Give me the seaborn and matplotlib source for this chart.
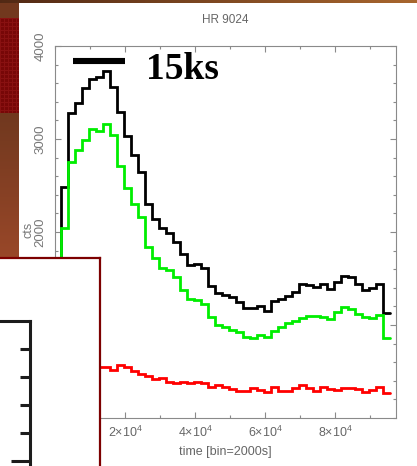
import numpy as np
import pandas as pd
import matplotlib
matplotlib.use("Agg")
import matplotlib.pyplot as plt
from matplotlib.ticker import MultipleLocator, FixedLocator, FuncFormatter
import seaborn as sns

# ---- light curve of HR 9024, 2000 s bins ----
BIN_WIDTH = 2000
T_START = 1700

total_cts = [2487, 3280, 3387, 3548, 3645, 3667, 3731, 3559, 3290, 3032,
             2823, 2645, 2306, 2140, 2038, 1984, 1892, 1763, 1645, 1656,
             1610, 1419, 1341, 1323, 1298, 1251, 1180, 1180, 1201, 1151,
             1261, 1276, 1312, 1358, 1441, 1430, 1405, 1441, 1387, 1459,
             1527, 1519, 1438, 1376, 1401, 1441, 1126]
soft_cts = [2040, 2756, 2887, 2989, 3111, 3091, 3161, 3043, 2710, 2470,
            2301, 2165, 1842, 1717, 1610, 1591, 1519, 1376, 1276, 1269,
            1223, 1089, 1000, 982, 946, 928, 874, 857, 892, 868,
            935, 975, 1018, 1043, 1075, 1100, 1100, 1089, 1065, 1143,
            1190, 1172, 1115, 1089, 1078, 1104, 857]
hard_cts = [540, 565, 558, 548, 556, 552, 552, 516, 570, 552,
            505, 473, 452, 416, 427, 384, 373, 387, 373, 384,
            373, 330, 355, 337, 312, 294, 294, 319, 301, 276,
            330, 294, 294, 319, 355, 319, 294, 337, 312, 301,
            326, 326, 312, 276, 301, 330, 266]

x_major_ticks = [20000, 40000, 60000, 80000]
y_major_ticks = [1000, 2000, 3000, 4000]
scale_bar = (5000, 20000)   # 15 ks
scale_label = "15ks"

W, H = 417, 466
sns.set_style("ticks")
plt.rcParams["font.family"] = ["Liberation Sans", "DejaVu Sans"]
plt.rcParams["mathtext.fontset"] = "custom"
plt.rcParams["mathtext.rm"] = "Liberation Sans"
plt.rcParams["mathtext.it"] = "Liberation Sans:italic"

fig = plt.figure(figsize=(W / 100, H / 100), dpi=100)

# ---- slide background behind the plot panel ----
bg = np.ones((H, W, 3))
brown = np.array([0.45, 0.22, 0.12])
bg[:, :19] = brown
grad = np.linspace(0, 1, W)[:, None]
bg[:3, :] = (1 - grad) * np.array([0.32, 0.16, 0.08]) + grad * np.array([0.66, 0.40, 0.18])
band = np.zeros((95, 19, 3)) + np.array([0.47, 0.03, 0.03])
band[::4, :] = [0.54, 0.07, 0.07]
band[:, ::4] = [0.54, 0.07, 0.07]
bg[18:113, :19] = band
fade = np.linspace(0, 1, 145)[:, None]
bg[113:258, :19] = ((1 - fade) * np.array([0.44, 0.22, 0.12]) + fade * np.array([0.60, 0.28, 0.16]))[:, None, :]
ax_bg = fig.add_axes([0, 0, 1, 1], zorder=-10)
ax_bg.imshow(bg, aspect="auto", interpolation="nearest")
ax_bg.set_axis_off()

# ---- main light curve axes ----
left, right, top, bottom = 55, 396, 46, 418
ax = fig.add_axes([left / W, 1 - bottom / H, (right - left) / W, (bottom - top) / H])
ax.set_facecolor("white")


def step_frame(values):
    edges = T_START + BIN_WIDTH * np.arange(len(values) + 1)
    t = np.concatenate([[edges[0]], edges])
    c = np.concatenate([[0], values, [values[-1]]])
    return pd.DataFrame({"time": t, "cts": c})


for vals, col in [(total_cts, "black"), (soft_cts, "#00ee00"), (hard_cts, "#ff0000")]:
    sns.lineplot(data=step_frame(vals), x="time", y="cts", ax=ax, color=col,
                 drawstyle="steps-post", estimator=None, sort=False,
                 linewidth=2.0, legend=False, solid_joinstyle="miter")

ax.plot(scale_bar, [3840, 3840], color="black", linewidth=4.4, solid_capstyle="butt")
ax.text(26000, 3645, scale_label, family="Liberation Serif", weight="bold",
        fontsize=27, va="baseline", ha="left", color="black")

ax.set_xlim(0, 97400)
ax.set_ylim(0, 4000)
ax.xaxis.set_major_locator(FixedLocator(x_major_ticks))
ax.xaxis.set_minor_locator(MultipleLocator(10000))
ax.yaxis.set_major_locator(FixedLocator(y_major_ticks))
ax.yaxis.set_minor_locator(MultipleLocator(200))
ax.xaxis.set_major_formatter(FuncFormatter(lambda v, p: r"$%d{\times}10^{4}$" % round(v / 1e4)))
ax.set_xlabel("")
ax.set_ylabel("")

grey = "#8a8a8a"
for s in ax.spines.values():
    s.set_visible(True)
    s.set_color(grey)
    s.set_linewidth(0.8)
ax.tick_params(which="both", direction="in", top=True, right=True, color=grey, width=0.8)
ax.tick_params(which="major", length=4)
ax.tick_params(which="minor", length=2.2)
ax.tick_params(axis="x", labelsize=9, labelcolor="#666666", pad=5)
ax.tick_params(axis="y", labelsize=9.5, labelcolor="#777777", pad=6)
for lab in ax.get_yticklabels():
    lab.set_rotation(90)
    lab.set_va("center")

fig.text(225.5 / W, 1 - 20 / H, "HR 9024", ha="center", va="center", fontsize=8.5, color="#666666")
fig.text(225 / W, 1 - 452 / H, "time [bin=2000s]", ha="center", va="center", fontsize=9, color="#666666")
fig.text(28 / W, 1 - 230 / H, "cts", ha="center", va="center", rotation=90, fontsize=9, color="#777777")

# ---- inset panel in the lower left corner ----
box_top, box_right = 258, 100
ax_box = fig.add_axes([-4 / W, -6 / H, (box_right + 4) / W, (H - box_top + 6) / H], zorder=5)
ax_box.set_facecolor("white")
ax_box.set_xticks([])
ax_box.set_yticks([])
for s in ax_box.spines.values():
    s.set_color("#7d0000")
    s.set_linewidth(1.6)

frag_top, frag_right = 321, 30
ax_frag = fig.add_axes([-60 / W, (H - 488.5) / H, (frag_right + 60) / W, 167.5 / H], zorder=6)
ax_frag.patch.set_alpha(0)
ax_frag.set_xlim(0, 1)
ax_frag.set_ylim(0, 6)
ax_frag.yaxis.set_major_locator(FixedLocator([1]))
ax_frag.yaxis.set_minor_locator(FixedLocator([2, 3, 4, 5]))
ax_frag.set_xticks([])
ax_frag.yaxis.set_major_formatter(FuncFormatter(lambda v, p: ""))
for name, s in ax_frag.spines.items():
    if name in ("top", "right"):
        s.set_color("#1c1c1c")
        s.set_linewidth(2.2)
    else:
        s.set_visible(False)
ax_frag.tick_params(axis="y", which="both", left=False, right=True, direction="in",
                    color="#1c1c1c", width=2.2)
ax_frag.tick_params(axis="y", which="major", length=13.5)
ax_frag.tick_params(axis="y", which="minor", length=7)

fig.savefig("out.png", dpi=100)
